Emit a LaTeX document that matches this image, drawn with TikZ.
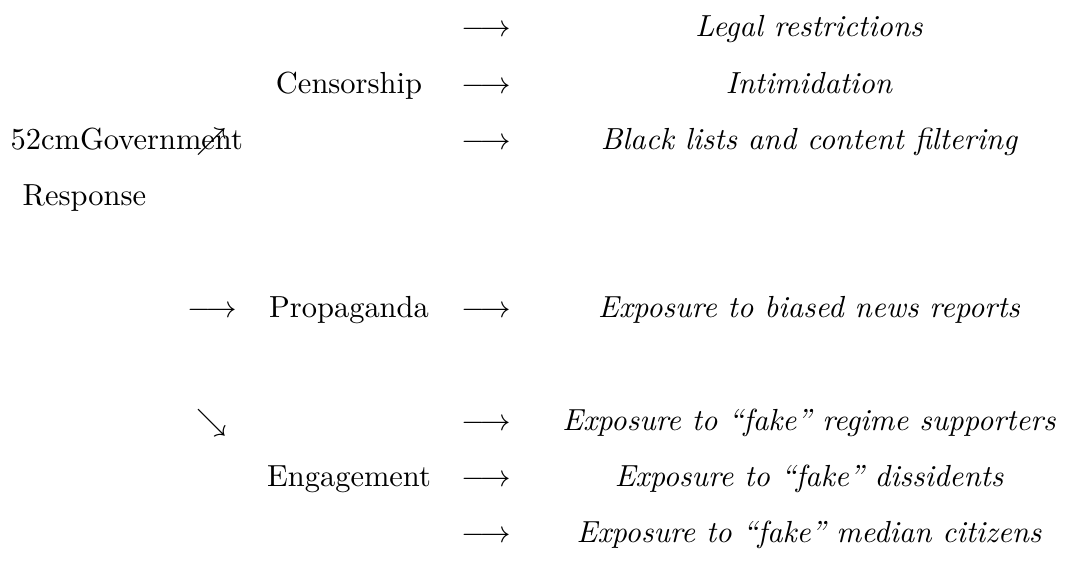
\documentclass[tikz,border=0pt]{standalone}
\usepackage{amsmath, amssymb}
\usepackage{tikz}

\begin{document}
\begin{tikzpicture}[x=0.328pt,y=-0.328pt,
    cat/.style={anchor=base,inner sep=0pt},
    item/.style={anchor=base,inner sep=0pt,font=\itshape},
    arr/.style={anchor=base,inner sep=0pt}]
  \useasboundingbox (0,0) rectangle (1071,577);
  % first column
  \node[anchor=base west,inner sep=0pt] (gov) at (10,149.3) {52cmGovernment};
  \node[anchor=base west,inner sep=0pt] (resp) at (22,205.5) {Response};
  % branch arrows
  \node[arr] (up) at (212,149.3) {$\nearrow$};
  \node[arr] (mid) at (212,317.8) {$\longrightarrow$};
  \node[arr] (down) at (212,430.2) {$\searrow$};
  % categories
  \node[cat] (cens) at (349,93.2) {Censorship};
  \node[cat] (prop) at (349,317.8) {Propaganda};
  \node[cat] (eng) at (349,486.3) {Engagement};
  % arrows to the tactics
  \node[arr] (a1) at (486,37) {$\longrightarrow$};
  \node[arr] (a2) at (486,93.2) {$\longrightarrow$};
  \node[arr] (a3) at (486,149.3) {$\longrightarrow$};
  \node[arr] (a4) at (486,317.8) {$\longrightarrow$};
  \node[arr] (a5) at (486,430.2) {$\longrightarrow$};
  \node[arr] (a6) at (486,486.3) {$\longrightarrow$};
  \node[arr] (a7) at (486,542.5) {$\longrightarrow$};
  % tactics
  \node[item] (legal) at (809,37) {Legal restrictions};
  \node[item] (intim) at (809,93.2) {Intimidation};
  \node[item] (black) at (809,149.3) {Black lists and content filtering};
  \node[item] (news) at (809,317.8) {Exposure to biased news reports};
  \node[item] (supp) at (809,430.2) {Exposure to ``fake'' regime supporters};
  \node[item] (diss) at (809,486.3) {Exposure to ``fake'' dissidents};
  \node[item] (median) at (809,542.5) {Exposure to ``fake'' median citizens};
\end{tikzpicture}
\end{document}
